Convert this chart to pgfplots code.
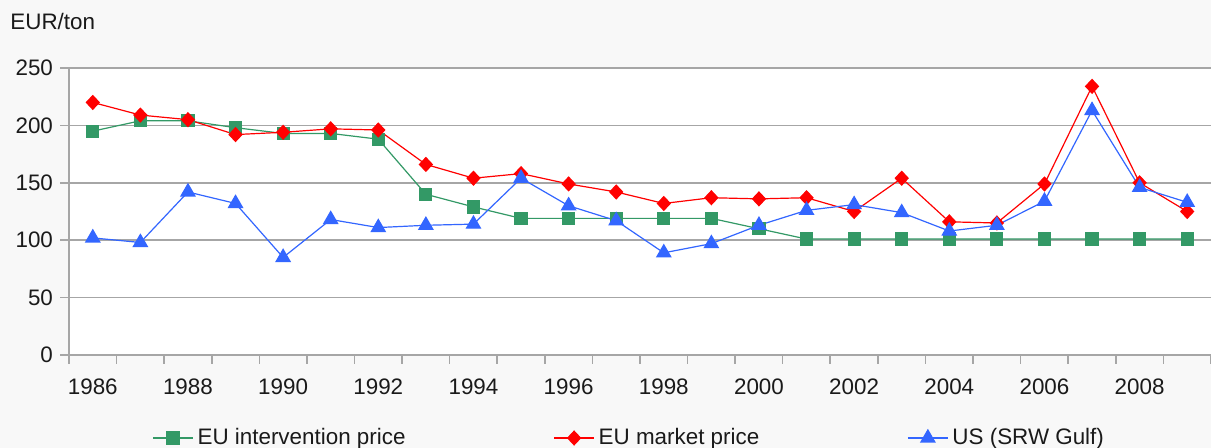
\documentclass[border=0pt]{standalone}
\usepackage{fontspec}
\setmainfont{Liberation Sans}
\usepackage{pgfplots}
\pgfplotsset{compat=1.18}
\definecolor{bg}{HTML}{F8F8F8}
\definecolor{gridc}{HTML}{A6A6A6}
\definecolor{cgreen}{HTML}{339966}
\definecolor{cred}{HTML}{FF0000}
\definecolor{cblue}{HTML}{3366FF}
\definecolor{txt}{HTML}{1A1A1A}

\begin{document}
\begin{tikzpicture}
\fill[bg] (-34.5pt,-46.5pt) rectangle (571pt,177.5pt);
\begin{axis}[
    at={(0pt,0pt)}, anchor=south west,
    scale only axis,
    width=571pt, height=143.5pt,
    xmin=1985.5, xmax=2009.5,
    ymin=0, ymax=250,
    ytick={0,50,...,250},
    xtick={1986,1988,...,2008},
    xticklabels={1986,1988,1990,1992,1994,1996,1998,2000,2002,2004,2006,2008},
    minor xtick={1985.5,1986.5,...,2009.5},
    axis x line*=bottom, axis y line*=left,
    axis line style={gridc, line width=0.8pt},
    ymajorgrids,
    major grid style={gridc, line width=0.8pt},
    tick align=outside,
    xtick style={draw=none},
    minor x tick style={draw=gridc, line width=0.8pt},
    minor tick length=4.5pt,
    ytick style={gridc, line width=0.8pt},
    major tick length=4.5pt,
    axis background/.style={fill=white},
    tick label style={font=\fontsize{11.2}{13}\selectfont, text=txt},
    /pgf/number format/assume math mode=true,
    xticklabel style={yshift=-4pt},
    legend columns=3,
    legend style={at={(0,0)}, anchor=west, xshift=41.5pt, yshift=-41.5pt,
        draw=none, fill=none, inner sep=0pt,
        font=\fontsize{11.2}{13}\selectfont, text=txt,
        /tikz/every even column/.append style={column sep=72pt}},
    legend cell align=left,
    legend image code/.code={\draw[mark repeat=2,mark phase=2] plot coordinates {(0pt,0pt)(10pt,0pt)(20pt,0pt)};},
]
\addplot[cgreen, line width=0.6pt, mark=square*, mark size=3pt, mark options={solid}] coordinates {
(1986,195) (1987,204) (1988,204) (1989,198) (1990,193) (1991,193) (1992,188) (1993,140)
(1994,129) (1995,119) (1996,119) (1997,119) (1998,119) (1999,119) (2000,110) (2001,101)
(2002,101) (2003,101) (2004,101) (2005,101) (2006,101) (2007,101) (2008,101) (2009,101)};
\addplot[cred, line width=0.6pt, mark=diamond*, mark size=3.4pt, mark options={solid, xscale=1.25}] coordinates {
(1986,220) (1987,209) (1988,205) (1989,192) (1990,194) (1991,197) (1992,196) (1993,166)
(1994,154) (1995,158) (1996,149) (1997,142) (1998,132) (1999,137) (2000,136) (2001,137)
(2002,125) (2003,154) (2004,116) (2005,115) (2006,149) (2007,234) (2008,150) (2009,125)};
\addplot[cblue, line width=0.6pt, mark=triangle*, mark size=4pt, mark options={solid}] coordinates {
(1986,102) (1987,98) (1988,142) (1989,132) (1990,85) (1991,118) (1992,111) (1993,113)
(1994,114) (1995,154) (1996,130) (1997,117) (1998,89) (1999,97) (2000,113) (2001,126)
(2002,131) (2003,124) (2004,108) (2005,113) (2006,134) (2007,213) (2008,146) (2009,133)};
\legend{EU intervention price, EU market price, US (SRW Gulf)}
\end{axis}
\node[anchor=west, inner sep=0pt, text=txt, font=\fontsize{11.2}{13}\selectfont] at (-29.5pt,166.5pt) {EUR/ton};
\pgfresetboundingbox
\useasboundingbox (-34.5pt,-46.5pt) rectangle (571pt,177.5pt);
\end{tikzpicture}
\end{document}
